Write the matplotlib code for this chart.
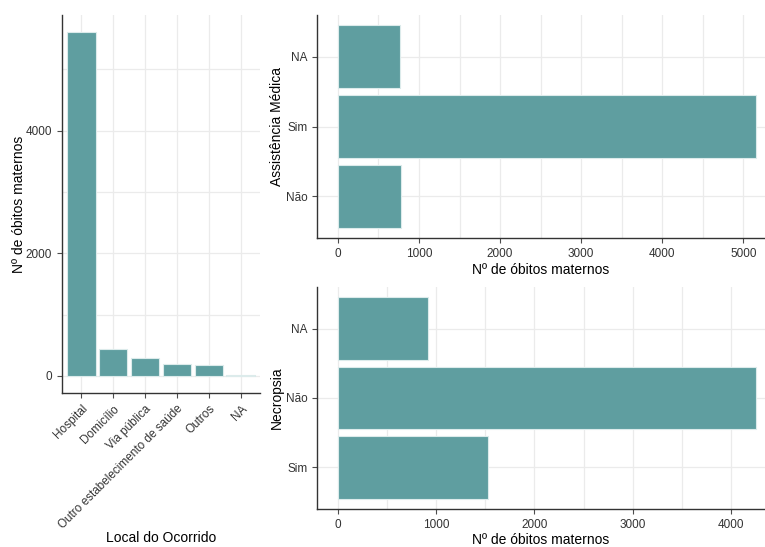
import matplotlib
matplotlib.use("Agg")
import matplotlib.pyplot as plt
from matplotlib.ticker import MultipleLocator

plt.rcParams['font.family'] = ['Liberation Sans', 'DejaVu Sans']

# óbitos maternos por local de ocorrência
local_cats = ['Hospital', 'Domicílio', 'Via pública',
              'Outro estabelecimento de saúde', 'Outros', 'NA']
local_vals = [5605, 437, 291, 198, 181, 21]

# assistência médica (de baixo para cima)
assist_cats = ['Não', 'Sim', 'NA']
assist_vals = [776, 5152, 764]

# necropsia (de baixo para cima)
necro_cats = ['Sim', 'Não', 'NA']
necro_vals = [1529, 4251, 915]

BAR = '#5F9EA0'
GRID = '#EBEBEB'
TICK = '#333333'
W, H = 765, 547


def px_axes(fig, x0, y0, x1, y1):
    # caixa em pixels (origem no canto superior esquerdo)
    return fig.add_axes([x0 / W, 1 - y1 / H, (x1 - x0) / W, (y1 - y0) / H])


def style(ax):
    for s in ['top', 'right']:
        ax.spines[s].set_visible(False)
    for s in ['left', 'bottom']:
        ax.spines[s].set_color('#333333')
        ax.spines[s].set_linewidth(1.0)
    ax.tick_params(axis='both', which='major', length=3.5, width=0.8,
                   color='#4D4D4D', labelcolor=TICK, labelsize=8.5)
    ax.tick_params(axis='both', which='minor', length=0)
    ax.set_axisbelow(True)


fig = plt.figure(figsize=(W / 100, H / 100), dpi=100)

# painel da esquerda: local do ocorrido
ax1 = px_axes(fig, 62, 15, 260, 393)
style(ax1)
x = range(len(local_cats))
ax1.bar(x, local_vals, width=0.9, color=BAR, edgecolor='#DCEBEB', linewidth=0.8)
ax1.set_xlim(-0.6, len(local_cats) - 0.4)
ax1.set_ylim(-280, 5885)
ax1.yaxis.set_major_locator(MultipleLocator(2000))
ax1.yaxis.set_minor_locator(MultipleLocator(1000))
ax1.grid(True, which='both', color=GRID, linewidth=0.9)
ax1.set_xticks(list(x))
ax1.set_xticklabels(local_cats, rotation=45, ha='right', rotation_mode='anchor')
ax1.set_xlabel('Local do Ocorrido', fontsize=10, va='center')
ax1.xaxis.set_label_coords(0.5, -0.384)
ax1.set_ylabel('Nº de óbitos maternos', fontsize=10, labelpad=0)

# painel superior direito: assistência médica
ax2 = px_axes(fig, 317, 15, 765, 238)
style(ax2)
y = range(len(assist_cats))
ax2.barh(y, assist_vals, height=0.9, color=BAR, edgecolor='#DCEBEB', linewidth=0.8)
ax2.set_ylim(-0.6, 2.6)
ax2.set_xlim(-258, 5267)
ax2.xaxis.set_major_locator(MultipleLocator(1000))
ax2.xaxis.set_minor_locator(MultipleLocator(500))
ax2.grid(True, which='both', color=GRID, linewidth=0.9)
ax2.set_yticks(list(y))
ax2.set_yticklabels(assist_cats)
ax2.set_xlabel('Nº de óbitos maternos', fontsize=10, labelpad=2)
ax2.set_ylabel('Assistência Médica', fontsize=10, labelpad=1)

# painel inferior direito: necropsia
ax3 = px_axes(fig, 317, 287, 765, 509)
style(ax3)
y = range(len(necro_cats))
ax3.barh(y, necro_vals, height=0.9, color=BAR, edgecolor='#DCEBEB', linewidth=0.8)
ax3.set_ylim(-0.6, 2.6)
ax3.set_xlim(-213, 4346)
ax3.xaxis.set_major_locator(MultipleLocator(1000))
ax3.xaxis.set_minor_locator(MultipleLocator(500))
ax3.grid(True, which='both', color=GRID, linewidth=0.9)
ax3.set_yticks(list(y))
ax3.set_yticklabels(necro_cats)
ax3.set_xlabel('Nº de óbitos maternos', fontsize=10, labelpad=2)
ax3.set_ylabel('Necropsia', fontsize=10, labelpad=1)

fig.savefig('out.png', dpi=100, facecolor='white')
